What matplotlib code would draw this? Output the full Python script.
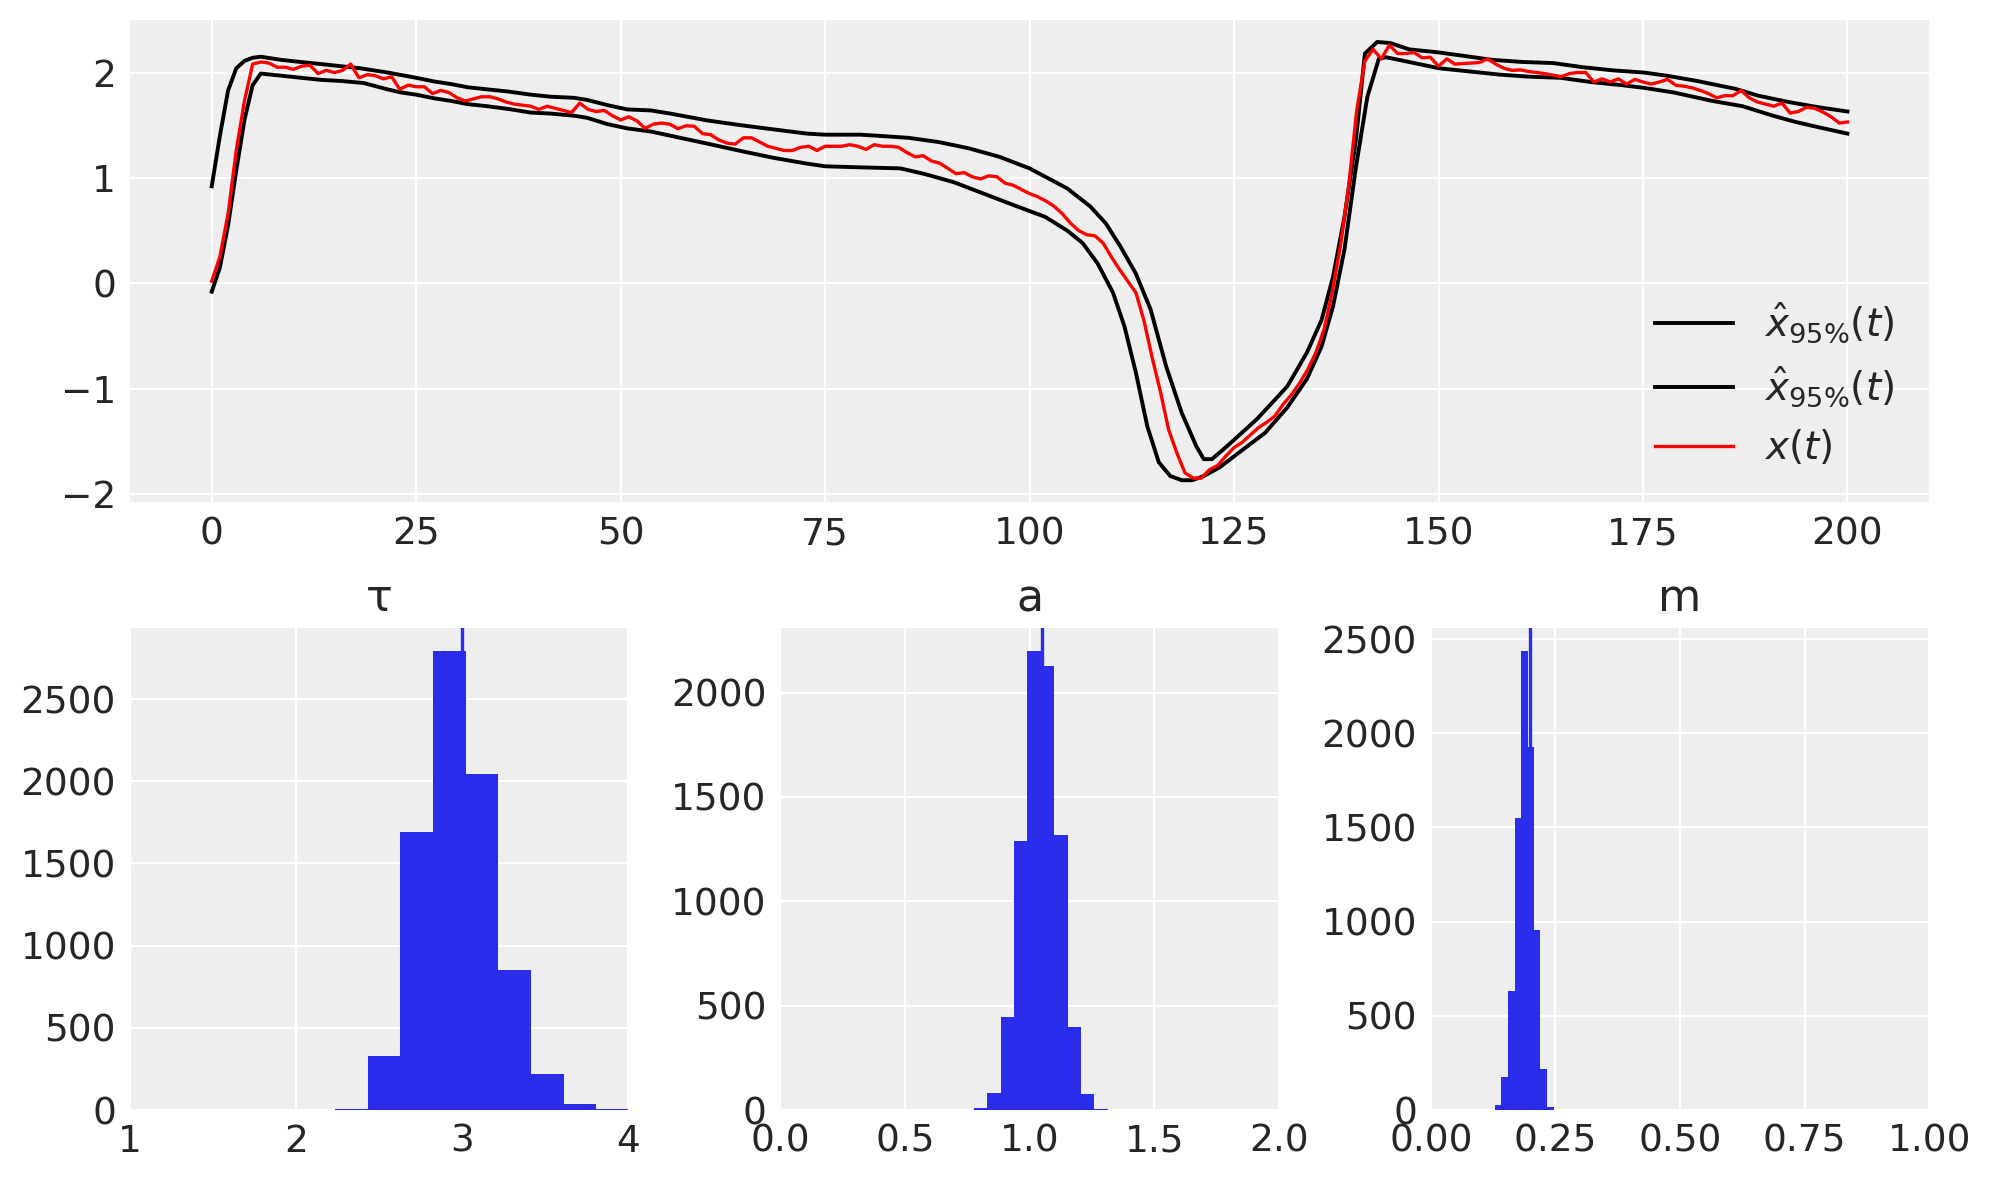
# Posterior check of the fitted model: trajectories and parameter histograms
import numpy as np
import matplotlib.pyplot as plt

# Observed trajectory x(t), one value per time step 0..200
x_obs = [
    0.02, 0.25, 0.66, 1.26, 1.73, 2.08, 2.10, 2.09, 2.05, 2.05,
    2.03, 2.06, 2.07, 1.99, 2.02, 2.00, 2.02, 2.08, 1.95, 1.98,
    1.97, 1.94, 1.96, 1.84, 1.88, 1.865, 1.865, 1.80, 1.83, 1.81,
    1.76, 1.73, 1.75, 1.77, 1.77, 1.75, 1.72, 1.70, 1.69, 1.68,
    1.65, 1.68, 1.66, 1.64, 1.62, 1.71, 1.65, 1.63, 1.64, 1.59,
    1.55, 1.58, 1.54, 1.47, 1.51, 1.52, 1.51, 1.467, 1.495, 1.49,
    1.42, 1.41, 1.36, 1.33, 1.32, 1.38, 1.38, 1.34, 1.30, 1.28,
    1.26, 1.26, 1.29, 1.30, 1.26, 1.30, 1.30, 1.30, 1.315, 1.30,
    1.27, 1.315, 1.30, 1.30, 1.29, 1.24, 1.20, 1.21, 1.16, 1.14,
    1.09, 1.04, 1.05, 1.01, 0.99, 1.02, 1.01, 0.95, 0.93, 0.89,
    0.85, 0.82, 0.78, 0.73, 0.66, 0.57, 0.50, 0.46, 0.45, 0.38,
    0.25, 0.13, 0.02, -0.09, -0.36, -0.71, -1.03, -1.39, -1.61, -1.80,
    -1.85, -1.85, -1.77, -1.73, -1.64, -1.56, -1.51, -1.44, -1.37, -1.32,
    -1.26, -1.15, -1.06, -0.95, -0.82, -0.66, -0.44, -0.09, 0.35, 0.91,
    1.64, 2.11, 2.22, 2.13, 2.26, 2.18, 2.18, 2.19, 2.14, 2.145,
    2.06, 2.13, 2.08, 2.085, 2.09, 2.095, 2.13, 2.08, 2.04, 2.02,
    2.025, 2.01, 2.00, 1.99, 1.975, 1.96, 1.99, 2.00, 2.00, 1.91,
    1.94, 1.91, 1.94, 1.89, 1.935, 1.91, 1.89, 1.91, 1.935, 1.88,
    1.87, 1.855, 1.83, 1.80, 1.76, 1.78, 1.78, 1.83, 1.76, 1.72,
    1.70, 1.68, 1.71, 1.615, 1.63, 1.67, 1.66, 1.625, 1.58, 1.52,
    1.53,
]
t_obs = np.arange(len(x_obs))

# 95% band, upper edge
t_hi = [0, 1, 2, 3, 4, 5, 6, 8.5, 10.9, 14.6, 18.2, 21.5, 25, 27.2, 29.3,
        31.3, 33.7, 36.2, 39, 41.5, 44.3, 45.9, 48.4, 50.8, 53.7, 56.1,
        60.6, 64.7, 68.7, 72.8, 75, 79.3, 81.4, 85.2, 88.9, 92.6, 96.3,
        100, 104.6, 107.4, 109.3, 111.1, 113, 114.8, 116.7, 118.6, 120.4,
        121.3, 122.3, 124.1, 127.8, 131.5, 133.9, 135.7, 137.1, 138.5,
        139.9, 141, 142.5, 144.1, 146.4, 150.1, 152.9, 156.6, 160.3, 164,
        167.7, 171.4, 175.1, 177.9, 181.6, 186.3, 189.1, 192.8, 196.5, 200]
x_hi = [0.92, 1.40, 1.83, 2.04, 2.11, 2.14, 2.15, 2.12, 2.10, 2.07, 2.04,
        2.00, 1.95, 1.915, 1.89, 1.86, 1.84, 1.82, 1.79, 1.77, 1.76, 1.74,
        1.69, 1.65, 1.64, 1.61, 1.545, 1.50, 1.46, 1.42, 1.41, 1.41, 1.40,
        1.38, 1.34, 1.28, 1.20, 1.09, 0.90, 0.73, 0.57, 0.35, 0.09, -0.25,
        -0.79, -1.23, -1.55, -1.67, -1.67, -1.55, -1.29, -0.98, -0.66,
        -0.35, 0.06, 0.63, 1.36, 2.18, 2.29, 2.28, 2.22, 2.19, 2.16, 2.12,
        2.10, 2.09, 2.05, 2.02, 2.00, 1.97, 1.92, 1.845, 1.78, 1.72, 1.67,
        1.63]

# 95% band, lower edge
t_lo = [0, 1, 2, 3, 4, 5, 6, 8.5, 10.9, 13.4, 15.8, 18.6, 21.5, 23.2, 25,
        27.2, 29.3, 31.3, 33.7, 36.2, 39, 41.5, 44.3, 45.9, 48.4, 50.8,
        53.7, 56.1, 60.6, 64.7, 68.7, 72.8, 75, 79.3, 84.2, 87, 90.7, 94.4,
        98.1, 101.9, 104.6, 106.5, 108.3, 110.2, 111.6, 113, 114.4, 115.8,
        117.2, 118.6, 119.9, 121.3, 123.2, 125.9, 128.8, 131.5, 133.9,
        135.7, 137.1, 138.5, 139.9, 141.3, 142.7, 143.6, 146.4, 150.1,
        153.8, 157.5, 161.2, 164.9, 168.6, 172.4, 175.1, 178.8, 183.5,
        187.2, 190.9, 193.7, 196.5, 200]
x_lo = [-0.08, 0.15, 0.55, 1.07, 1.55, 1.88, 1.99, 1.97, 1.95, 1.93, 1.92,
        1.90, 1.84, 1.81, 1.79, 1.755, 1.73, 1.70, 1.68, 1.655, 1.62, 1.61,
        1.59, 1.57, 1.51, 1.47, 1.44, 1.40, 1.325, 1.255, 1.19, 1.135, 1.11,
        1.10, 1.09, 1.04, 0.96, 0.85, 0.74, 0.63, 0.50, 0.38, 0.19, -0.09,
        -0.41, -0.85, -1.36, -1.70, -1.83, -1.87, -1.87, -1.83, -1.75,
        -1.59, -1.42, -1.18, -0.91, -0.60, -0.22, 0.32, 1.10, 1.77, 2.13,
        2.145, 2.10, 2.04, 2.01, 1.98, 1.96, 1.95, 1.91, 1.88, 1.855, 1.81,
        1.73, 1.68, 1.59, 1.53, 1.48, 1.42]

# Posterior histograms (bin edges and counts) and the true parameter values
tau_edges = [2.234, 2.431, 2.627, 2.824, 3.020, 3.217, 3.413, 3.610, 3.806, 4.003, 4.199]
tau_counts = [5, 326, 1691, 2793, 2042, 851, 219, 37, 5, 1]
a_edges = [0.776, 0.830, 0.884, 0.937, 0.991, 1.045, 1.099, 1.153, 1.207, 1.260, 1.314]
a_counts = [9, 81, 445, 1289, 2200, 2128, 1318, 398, 77, 4]
m_edges = [0.128, 0.141, 0.154, 0.168, 0.181, 0.194, 0.207, 0.220, 0.234, 0.247, 0.260]
m_counts = [26, 177, 632, 1550, 2437, 1927, 957, 217, 16, 2]
true_vals = {'τ': 3.0, 'a': 1.05, 'm': 0.2}
x_limits = {'τ': (1, 4), 'a': (0, 2), 'm': (0, 1)}

blue = '#2a2eec'
plt.rcParams.update({
    'axes.facecolor': '#eeeeee',
    'axes.grid': True,
    'axes.axisbelow': True,
    'grid.color': 'white',
    'grid.linewidth': 0.8,
    'xtick.major.size': 0,
    'ytick.major.size': 0,
    'xtick.major.pad': 5,
    'ytick.major.pad': 5,
    'xtick.labelsize': 13.5,
    'ytick.labelsize': 13.5,
    'axes.titlesize': 16,
    'legend.fontsize': 14,
    'text.color': '0.15',
    'xtick.color': '0.15',
    'ytick.color': '0.15',
})

fig = plt.figure(figsize=(9.965, 5.9), dpi=200)
gs = fig.add_gridspec(2, 3, left=0.0652, right=0.968, top=0.983, bottom=0.0593,
                      hspace=0.261, wspace=0.305)

ax = fig.add_subplot(gs[0, :])
ax.plot(t_hi, x_hi, color='k', lw=1.4, label=r'$\hat{x}_{95\%}(t)$')
ax.plot(t_lo, x_lo, color='k', lw=1.4, label=r'$\hat{x}_{95\%}(t)$')
ax.plot(t_obs, x_obs, color='red', lw=1.2, label=r'$x(t)$')
ax.legend(loc='lower right', frameon=False)
for s in ax.spines.values():
    s.set_visible(False)

hists = [('τ', tau_edges, tau_counts), ('a', a_edges, a_counts), ('m', m_edges, m_counts)]
for i, (name, edges, counts) in enumerate(hists):
    axh = fig.add_subplot(gs[1, i])
    axh.hist(edges[:-1], bins=edges, weights=counts, color=blue)
    axh.axvline(true_vals[name], color=blue, lw=1.2)
    axh.set_xlim(*x_limits[name])
    axh.set_title(name)
    for s in axh.spines.values():
        s.set_visible(False)

plt.savefig('out.png', dpi=200)
